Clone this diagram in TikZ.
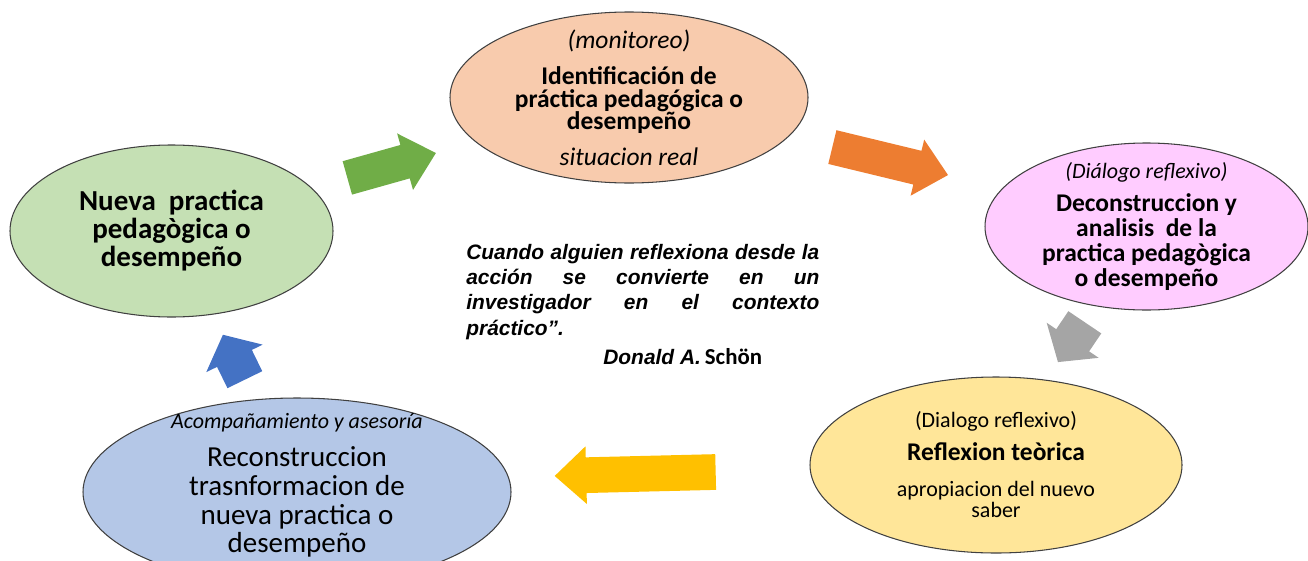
\documentclass[tikz,border=0pt]{standalone}
\usepackage{fontspec}
\setmainfont{Carlito}
\newfontfamily\quotefont{Liberation Sans}
\usetikzlibrary{shapes.geometric,shapes.arrows}
\definecolor{peach}{HTML}{F8CBAD}
\definecolor{leaf}{HTML}{C5E0B4}
\definecolor{rose}{HTML}{FFCCFF}
\definecolor{sand}{HTML}{FFE699}
\definecolor{sky}{HTML}{B4C7E7}
\definecolor{arrgreen}{HTML}{70AD47}
\definecolor{arrorange}{HTML}{ED7D31}
\definecolor{arrgray}{HTML}{A5A5A5}
\definecolor{arryellow}{HTML}{FFC000}
\definecolor{arrblue}{HTML}{4472C4}
\newcommand{\tightlines}{\lineskiplimit-20pt\relax}
\tikzstyle{stage} = [draw=black!75, line width=0.6pt, ellipse, inner sep=0pt]
\tikzstyle{txt} = [align=center, inner sep=0pt, text=black]
\tikzstyle{bigarrow} = [single arrow, draw=none, anchor=tail, inner xsep=0pt,
    inner ysep=0.34cm, single arrow head extend=0.23cm, single arrow tip angle=85]

\begin{document}
\begin{tikzpicture}
    \clip (0,0) rectangle (26.16,-11.2);
    % % % % % % % % % % % % % % % % % % % % % % %
    % Stages of the cycle
    % % % % % % % % % % % % % % % % % % % % % % %
    % Identification (top)
    \node [stage, fill=peach, minimum width=7.16cm, minimum height=3.42cm]
        (ident) at (12.58,-1.95) {};
    % New practice (left)
    \node [stage, fill=leaf, minimum width=6.46cm, minimum height=3.44cm]
        (nueva) at (3.43,-4.62) {};
    % Deconstruction (right)
    \node [stage, fill=rose, minimum width=6.46cm, minimum height=3.34cm]
        (decon) at (22.93,-4.53) {};
    % Theoretical reflection (bottom right)
    \node [stage, fill=sand, minimum width=7.44cm, minimum height=3.52cm]
        (reflex) at (19.92,-9.30) {};
    % Reconstruction (bottom left)
    \node [stage, fill=sky, minimum width=8.56cm, minimum height=3.76cm]
        (recon) at (5.94,-9.84) {};

    % Texts of the stages
    \node [txt, font={\fontsize{14.5}{13}\selectfont\tightlines}]
        (identtxt) at (ident) {\textit{(monitoreo)}\\[7.4pt]
        \textbf{Identificación de}\\ \textbf{práctica pedagógica o}\\
        \textbf{desempeño}\\[7pt] \textit{situacion real}};
    \node [txt, font={\bfseries\fontsize{16.5}{16}\selectfont\tightlines}]
        (nuevatxt) at ([yshift=0.01cm]nueva) {Nueva~ practica\\
        pedagògica o\\ desempeño};
    \node [txt, font={\fontsize{14.5}{14.2}\selectfont\tightlines}]
        (decontxt) at (decon) {{\fontsize{12.5}{13}\selectfont\itshape (Diálogo reflexivo)}\\[4.5pt]
        \textbf{Deconstruccion y}\\ \textbf{analisis~ de la}\\
        \textbf{practica pedagògica}\\ \textbf{o desempeño}};
    \node [txt, font={\fontsize{12.5}{12}\selectfont\tightlines}]
        (reflextxt) at ([yshift=0.01cm]reflex) {(Dialogo reflexivo)\\[7.3pt]
        {\fontsize{14.5}{14}\selectfont\bfseries Reflexion teòrica}\\[8.4pt]
        apropiacion del nuevo\\ saber};
    \node [txt, font={\fontsize{16.5}{16.3}\selectfont\tightlines}]
        (recontxt) at (5.94,-9.71) {{\fontsize{12.5}{13}\selectfont\itshape Acompañamiento y asesoría}\\[5.5pt]
        Reconstruccion\\ trasnformacion de\\ nueva practica o\\ desempeño};

    % Quote in the middle
    \node [anchor=north west, inner sep=0pt, text width=7.06cm, align=justify,
        font={\quotefont\bfseries\itshape\fontsize{11.9}{14.5}\selectfont\hyphenpenalty10000\relax}]
        (quote) at (9.32,-4.87) {Cuando alguien reflexiona desde la\linebreak
        acción se convierte en un\linebreak investigador en el contexto\linebreak
        práctico”.};
    \node [anchor=base west, inner sep=0pt] (author) at (12.06,-7.28)
        {{\quotefont\bfseries\itshape\fontsize{11.9}{14}\selectfont Donald A.}
        {\bfseries\fontsize{13}{14}\selectfont Schön}};

    % % % % % % % % % % % % % % % % % % % % % % %
    % Block arrows between the stages (placed by their tails)
    % % % % % % % % % % % % % % % % % % % % % % %
    \node [bigarrow, fill=arrgreen, minimum height=1.84cm,
        single arrow head extend=0.24cm, rotate=15.7] (arrnueva) at (6.94,-3.56) {};
    \node [bigarrow, fill=arrorange, minimum height=2.38cm,
        rotate=-13.6] (arrident) at (16.64,-2.94) {};
    \node [bigarrow, fill=arrgray, minimum height=0.96cm, inner ysep=0.39cm,
        single arrow tip angle=100, rotate=236] (arrdecon) at (21.70,-6.44) {};
    \node [bigarrow, fill=arryellow, minimum height=3.22cm, inner ysep=0.35cm,
        single arrow head extend=0.22cm, rotate=181.4] (arrreflex) at (14.32,-9.44) {};
    \node [bigarrow, fill=arrblue, minimum height=1.0cm, inner ysep=0.38cm,
        single arrow head extend=0.24cm, single arrow tip angle=100,
        rotate=116] (arrrecon) at (4.90,-7.60) {};
\end{tikzpicture}
\end{document}
